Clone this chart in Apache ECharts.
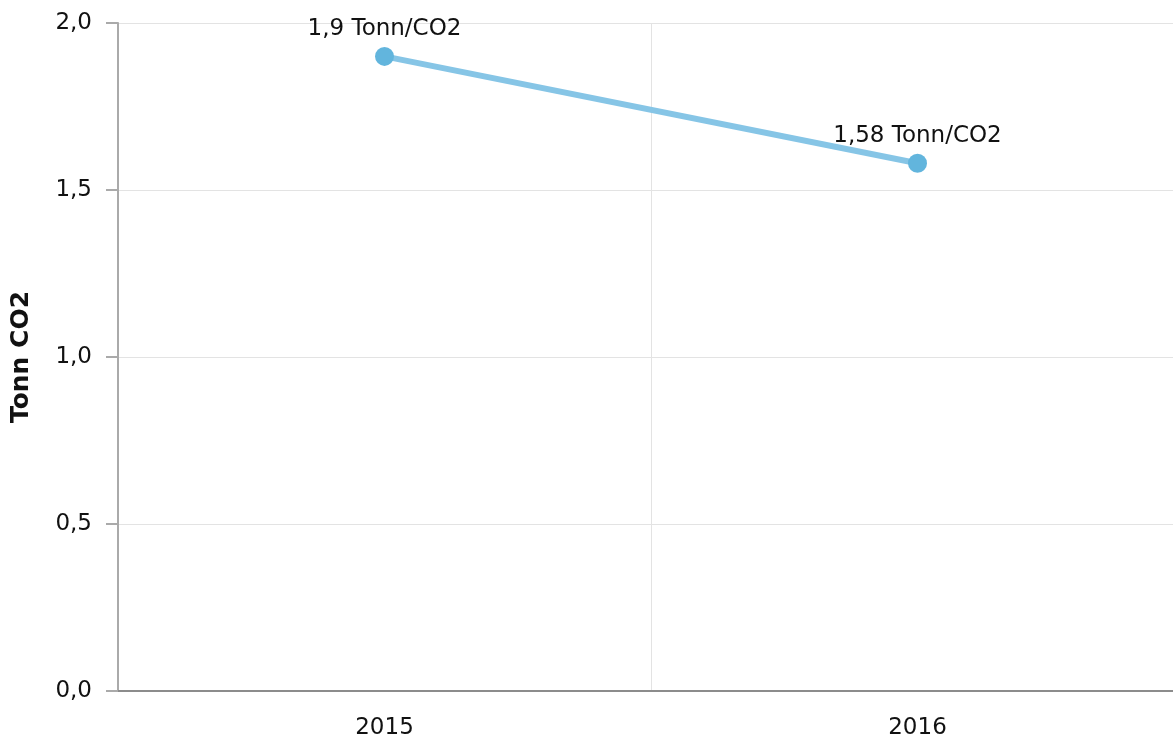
<!DOCTYPE html>
<html>
<head>
<meta charset="utf-8">
<script src="https://cdn.jsdelivr.net/npm/echarts@6/dist/echarts.min.js"></script>
<style>
  html, body { margin: 0; padding: 0; background: #fff; }
  #chart { width: 1173px; height: 742px; }
</style>
</head>
<body>
<div id="chart"></div>
<script>
// data
var years = ['2015', '2016'];
var co2 = [1.9, 1.58];
var unit = 'Tonn/CO2';
var yTicks = [0, 0.5, 1.0, 1.5, 2.0];

var comma = function (v, digits) {
  return (digits == null ? String(v) : v.toFixed(digits)).replace('.', ',');
};

var myChart = echarts.init(document.getElementById('chart'));

var option = {
  animation: false,
  textStyle: { fontFamily: 'DejaVu Sans' },
  // plot runs past the right edge of the canvas, like the original
  grid: { left: 118, width: 1066, top: 23, height: 668, containLabel: false, outerBoundsMode: 'none' },
  xAxis: {
    type: 'category',
    data: years,
    boundaryGap: true,
    axisLine: { lineStyle: { color: '#8c8c8c', width: 2 } },
    axisTick: { alignWithLabel: true, length: 10, lineStyle: { color: '#aaa', width: 2 } },
    axisLabel: { color: '#111', fontSize: 23, margin: 26 },
    splitLine: { show: true, lineStyle: { color: '#e3e3e3', width: 1 } }
  },
  yAxis: {
    type: 'value',
    min: yTicks[0],
    max: yTicks[yTicks.length - 1],
    interval: 0.5,
    name: 'Tonn CO2',
    nameLocation: 'middle',
    nameGap: 84,
    nameTextStyle: { color: '#111', fontSize: 25, fontWeight: 'bold' },
    axisLine: { show: true, lineStyle: { color: '#aaa', width: 2 } },
    axisTick: { show: true, length: 12, lineStyle: { color: '#aaa', width: 2 } },
    axisLabel: {
      color: '#111', fontSize: 23, margin: 26, padding: [7, 0, 0, 0],
      formatter: function (v) { return comma(v, 1); }
    },
    splitLine: { show: true, lineStyle: { color: '#e3e3e3', width: 1 } }
  },
  series: [{
    type: 'line',
    data: co2,
    symbol: 'circle',
    symbolSize: 19,
    itemStyle: { color: '#62b5dd' },
    lineStyle: { color: '#86c5e6', width: 6 },
    label: {
      show: true,
      position: 'top',
      distance: 6,
      color: '#111',
      fontSize: 23,
      formatter: function (p) { return comma(p.value) + ' ' + unit; }
    }
  }]
};

myChart.setOption(option);
</script>
</body>
</html>
